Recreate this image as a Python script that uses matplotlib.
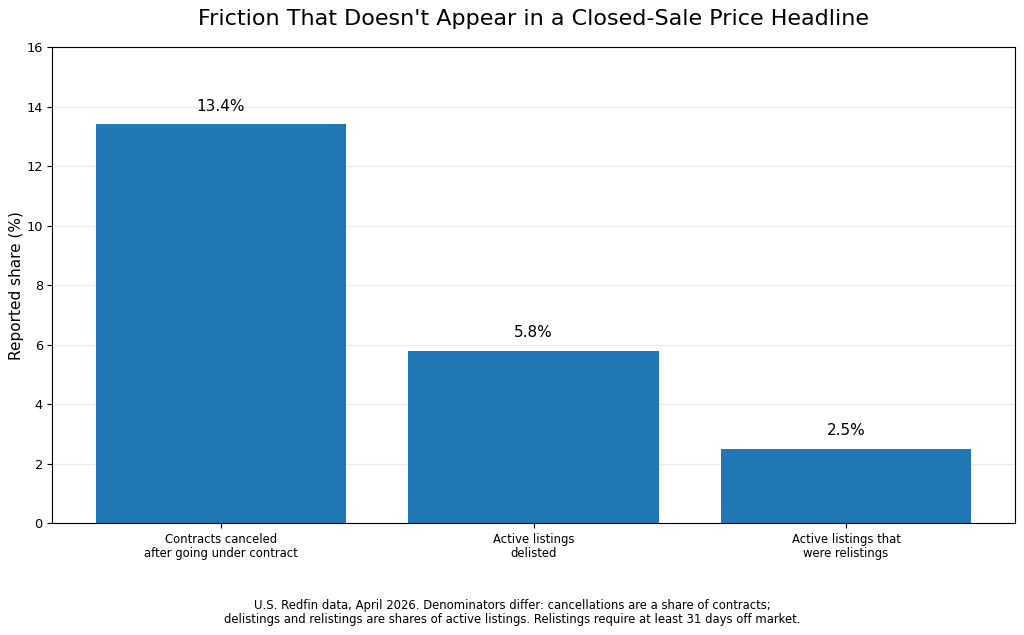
import matplotlib
matplotlib.use("Agg")
import matplotlib.pyplot as plt

# 数据
categories = ["Contracts canceled\nafter going under contract",
              "Active listings\ndelisted",
              "Active listings that\nwere relistings"]
shares = [13.4, 5.8, 2.5]
value_labels = ["13.4%", "5.8%", "2.5%"]

fig, ax = plt.subplots(figsize=(10.24, 6.35), dpi=100)
fig.subplots_adjust(left=0.051, right=0.991, top=0.926, bottom=0.176)

ax.bar(range(len(categories)), shares, width=0.8, color="#1f77b4")
ax.set_xticks(range(len(categories)))
ax.set_xticklabels(categories, fontsize=8.4, linespacing=1.1)
ax.tick_params(axis="y", labelsize=9.3, length=3.3)
ax.tick_params(axis="x", length=3.3)
ax.set_ylim(0, 16)
ax.set_ylabel("Reported share (%)", fontsize=11, labelpad=2)
ax.set_title("Friction That Doesn't Appear in a Closed-Sale Price Headline", fontsize=16, pad=16)
ax.grid(True, axis="y", alpha=0.25)
ax.set_axisbelow(True)

for i, (v, lab) in enumerate(zip(shares, value_labels)):
    ax.text(i, v + 0.35, lab, ha="center", va="bottom", fontsize=11)

fig.text(0.5, 0.014,
         "U.S. Redfin data, April 2026. Denominators differ: cancellations are a share of contracts;\n"
         "delistings and relistings are shares of active listings. Relistings require at least 31 days off market.",
         ha="center", va="bottom", fontsize=8.4, linespacing=1.1)

fig.savefig("out.png", dpi=100)
